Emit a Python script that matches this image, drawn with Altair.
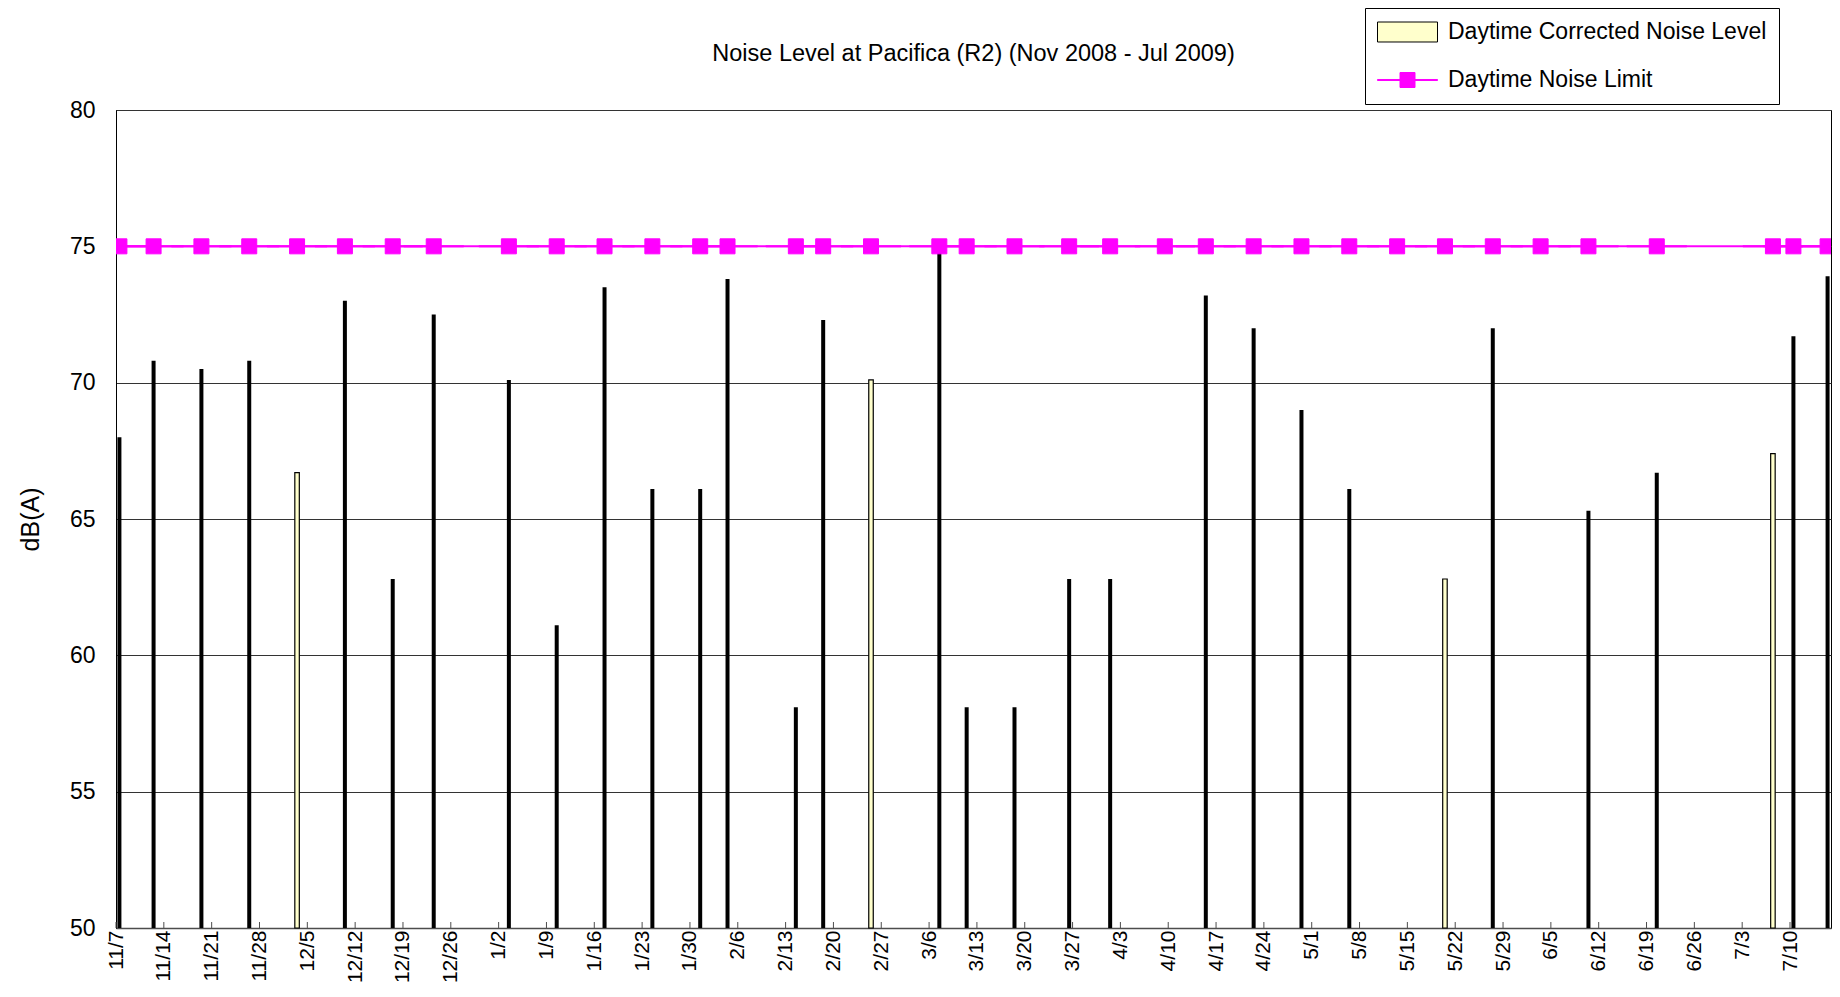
import altair as alt
import pandas as pd

SANS = "Liberation Sans, Arial, sans-serif"

S1 = "Daytime Corrected Noise Level"
S2 = "Daytime Noise Limit"

# weekly tick labels on the date axis
tick_labels = ["11/7", "11/14", "11/21", "11/28", "12/5", "12/12", "12/19", "12/26",
               "1/2", "1/9", "1/16", "1/23", "1/30", "2/6", "2/13", "2/20", "2/27",
               "3/6", "3/13", "3/20", "3/27", "4/3", "4/10", "4/17", "4/24",
               "5/1", "5/8", "5/15", "5/22", "5/29", "6/5", "6/12", "6/19", "6/26",
               "7/3", "7/10"]

# measured noise levels (drawn black)
black_dates = ["11/7", "11/12", "11/19", "11/26", "12/10", "12/17", "12/23",
               "1/3", "1/10", "1/17", "1/24", "1/31", "2/4", "2/14", "2/18",
               "3/7", "3/11", "3/18", "3/26", "4/1", "4/15", "4/22", "4/29",
               "5/6", "5/27", "6/10", "6/20", "7/10", "7/15"]
black_values = [68.0, 70.8, 70.5, 70.8, 73.0, 62.8, 72.5,
                70.1, 61.1, 73.5, 66.1, 66.1, 73.8, 58.1, 72.3,
                75.0, 58.1, 58.1, 62.8, 62.8, 73.2, 72.0, 69.0,
                66.1, 72.0, 65.3, 66.7, 71.7, 73.9]

# measured noise levels (drawn with visible yellow fill)
yellow_dates = ["12/3", "2/25", "5/20", "7/7"]
yellow_values = [66.7, 70.1, 62.8, 67.4]

# daytime noise limit markers
limit_dates = ["11/7", "11/12", "11/19", "11/26", "12/3", "12/10", "12/17", "12/23",
               "1/3", "1/10", "1/17", "1/24", "1/31", "2/4", "2/14", "2/18", "2/25",
               "3/7", "3/11", "3/18", "3/26", "4/1", "4/9", "4/15", "4/22", "4/29",
               "5/6", "5/13", "5/20", "5/27", "6/3", "6/10", "6/20", "7/7", "7/10", "7/15"]
limit_values = [75] * len(limit_dates)


def to_iso(md, hour):
    m, d = (int(v) for v in md.split("/"))
    y = 2008 if m >= 11 else 2009
    return f"{y}-{m:02d}-{d:02d}T{hour:02d}:00:00"


def to_dt(md):
    m, d = (int(v) for v in md.split("/"))
    y = 2008 if m >= 11 else 2009
    return alt.DateTime(year=y, month=m, date=d)


black_df = pd.DataFrame({"date": [to_iso(d, 12) for d in black_dates], "value": black_values})
yellow_df = pd.DataFrame({"date": [to_iso(d, 12) for d in yellow_dates], "value": yellow_values})
limit_df = pd.DataFrame({"date": [to_iso(d, 12) for d in limit_dates], "value": limit_values,
                         "series": [S2] * len(limit_dates)})
tick_df = pd.DataFrame({"date": [to_iso(t, 0) for t in tick_labels]})

x_scale = alt.Scale(domain=[alt.DateTime(year=2008, month=11, date=7),
                            alt.DateTime(year=2009, month=7, date=16)], nice=False, padding=0)
x_axis = alt.Axis(values=[to_dt(t) for t in tick_labels],
                  labelExpr="timeFormat(datum.value, '%-m/%-d')",
                  labelAngle=-90, labelFont=SANS, labelFontSize=21, labelColor="black",
                  labelPadding=2, ticks=False, tickSize=0, grid=False,
                  domainColor="#4d4d4d", domainWidth=1.5, labelOverlap=False,
                  labelBound=False, labelFlush=False, title=None)
y_scale = alt.Scale(domain=[50, 80], nice=False, zero=False, padding=0)
y_axis = alt.Axis(values=[50, 55, 60, 65, 70, 75, 80], title="dB(A)",
                  titleFont=SANS, titleFontSize=25, titleFontWeight="normal", titleColor="black",
                  titlePadding=26, labelFont=SANS, labelFontSize=23, labelColor="black",
                  labelPadding=21, ticks=False, tickSize=0, grid=True, gridColor="#333333",
                  gridWidth=1, domainColor="black", domainWidth=1)

X = alt.X("date:T", scale=x_scale, axis=x_axis)
Y = alt.Y("value:Q", scale=y_scale, axis=y_axis)

RECT = "M-1,-0.333H1V0.333H-1Z"
LINESQ = "M-1,-0.017H1V0.017H-1ZM-0.25,-0.25H0.25V0.25H-0.25Z"

leg = alt.Legend(title=None, orient="none", legendX=1249, legendY=-102, direction="vertical",
                 strokeColor="black", fillColor="white", padding=12, symbolSize=3600,
                 symbolStrokeWidth=1, labelFont=SANS, labelFontSize=23, labelColor="black",
                 labelOffset=10, rowPadding=24, clipHeight=24, labelLimit=800)

black_bars = alt.Chart(black_df).mark_bar(width=4, color="black").encode(
    x=X, y=Y, y2=alt.Y2Datum(50))
yellow_bars = alt.Chart(yellow_df).mark_bar(width=4.5, fill="#FFFFCC", stroke="black",
                                            strokeWidth=1.2).encode(
    x=X, y=Y, y2=alt.Y2Datum(50))
ticks = alt.Chart(tick_df).mark_rule(color="#4d4d4d", strokeWidth=1).encode(
    x=X, y=alt.YDatum(50, scale=y_scale, axis=y_axis), y2=alt.Y2Datum(50.22))
limit_line = alt.Chart(limit_df).mark_line(color="#FF00FF", strokeWidth=2).encode(x=X, y=Y)
limit_points = alt.Chart(limit_df).mark_point(filled=True, size=3600, opacity=1, strokeWidth=1,
                                              clip=True).encode(
    x=X, y=Y,
    fill=alt.Fill("series:N", scale=alt.Scale(domain=[S1, S2], range=["#FFFFCC", "#FF00FF"]), legend=leg),
    stroke=alt.Stroke("series:N", scale=alt.Scale(domain=[S1, S2], range=["black", "#FF00FF"]), legend=leg),
    shape=alt.Shape("series:N", scale=alt.Scale(domain=[S1, S2], range=[RECT, LINESQ]), legend=leg),
)

chart = alt.layer(black_bars, yellow_bars, ticks, limit_line, limit_points).properties(
    width=1715, height=818,
    autosize=alt.AutoSizeParams(type="none"),
    padding={"left": 108, "top": 102, "right": 1, "bottom": 56},
    title=alt.TitleParams("Noise Level at Pacifica (R2) (Nov 2008 - Jul 2009)", font=SANS,
                          fontSize=23.5, fontWeight="normal", color="black", anchor="middle",
                          frame="group", baseline="alphabetic", offset=-77),
).configure_view(stroke="black", strokeWidth=1)

chart.save("out.html", embed_options={"renderer": "svg", "actions": False})
